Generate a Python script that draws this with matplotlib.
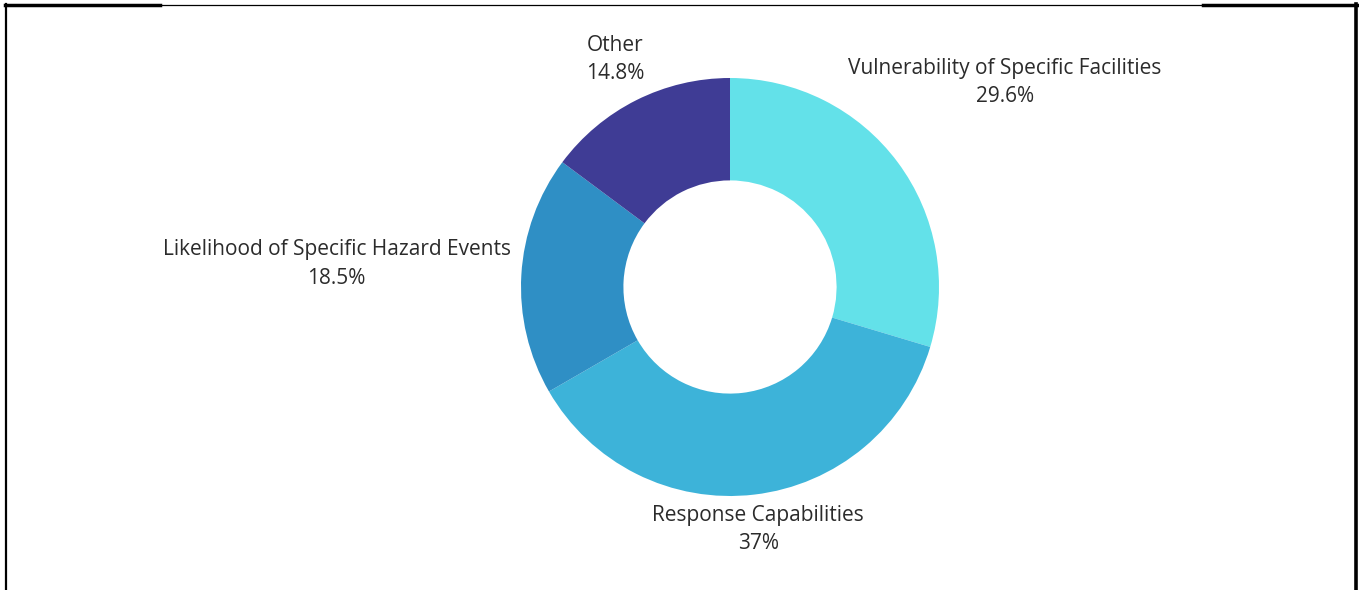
import numpy as np
import matplotlib.pyplot as plt
from matplotlib.lines import Line2D

categories = ["Vulnerability of Specific Facilities", "Response Capabilities",
              "Likelihood of Specific Hazard Events", "Other"]
shares = [29.6, 37, 18.5, 14.8]
share_labels = ["29.6%", "37%", "18.5%", "14.8%"]
colors = ["#63e1e9", "#3db3d9", "#2f8fc5", "#3f3c95"]

# radial distance of each label from the centre, in pixels
label_radius = [343, 244, 394, 255]

W, H = 1359, 590
fig = plt.figure(figsize=(W / 100, H / 100), dpi=100)
ax = fig.add_axes([0, 0, 1, 1])

cx, cy, R = 730, 303, 209
wedges, _ = ax.pie(shares, colors=colors, startangle=90, counterclock=False,
                   center=(cx, cy), radius=R, frame=True,
                   wedgeprops=dict(width=R * 0.49, linewidth=0))
ax.set_xlim(0, W)
ax.set_ylim(0, H)
ax.set_aspect("equal")
ax.axis("off")

for w, name, pct, r in zip(wedges, categories, share_labels, label_radius):
    mid = np.deg2rad((w.theta1 + w.theta2) / 2)
    ax.text(cx + r * np.cos(mid), cy + r * np.sin(mid), f"{name}\n{pct}",
            ha="center", va="center", fontsize=15, color="#2b2b2b",
            family="Open Sans", linespacing=1.45)

# frame around the panel
def fline(x, y, lw, color="black"):
    fig.add_artist(Line2D(np.array(x) / W, 1 - np.array(y) / H,
                          lw=lw, color=color, transform=fig.transFigure))

fline([5, 1357], [4.5, 4.5], 0.9)
fline([5, 160], [4.5, 4.5], 2.5)
fline([1203, 1357], [4.5, 4.5], 2.5)
fline([5.5, 5.5], [4, 590], 1.6)
fline([1356, 1356], [4, 590], 2.6)

fig.savefig("out.png", dpi=100, facecolor="white")
